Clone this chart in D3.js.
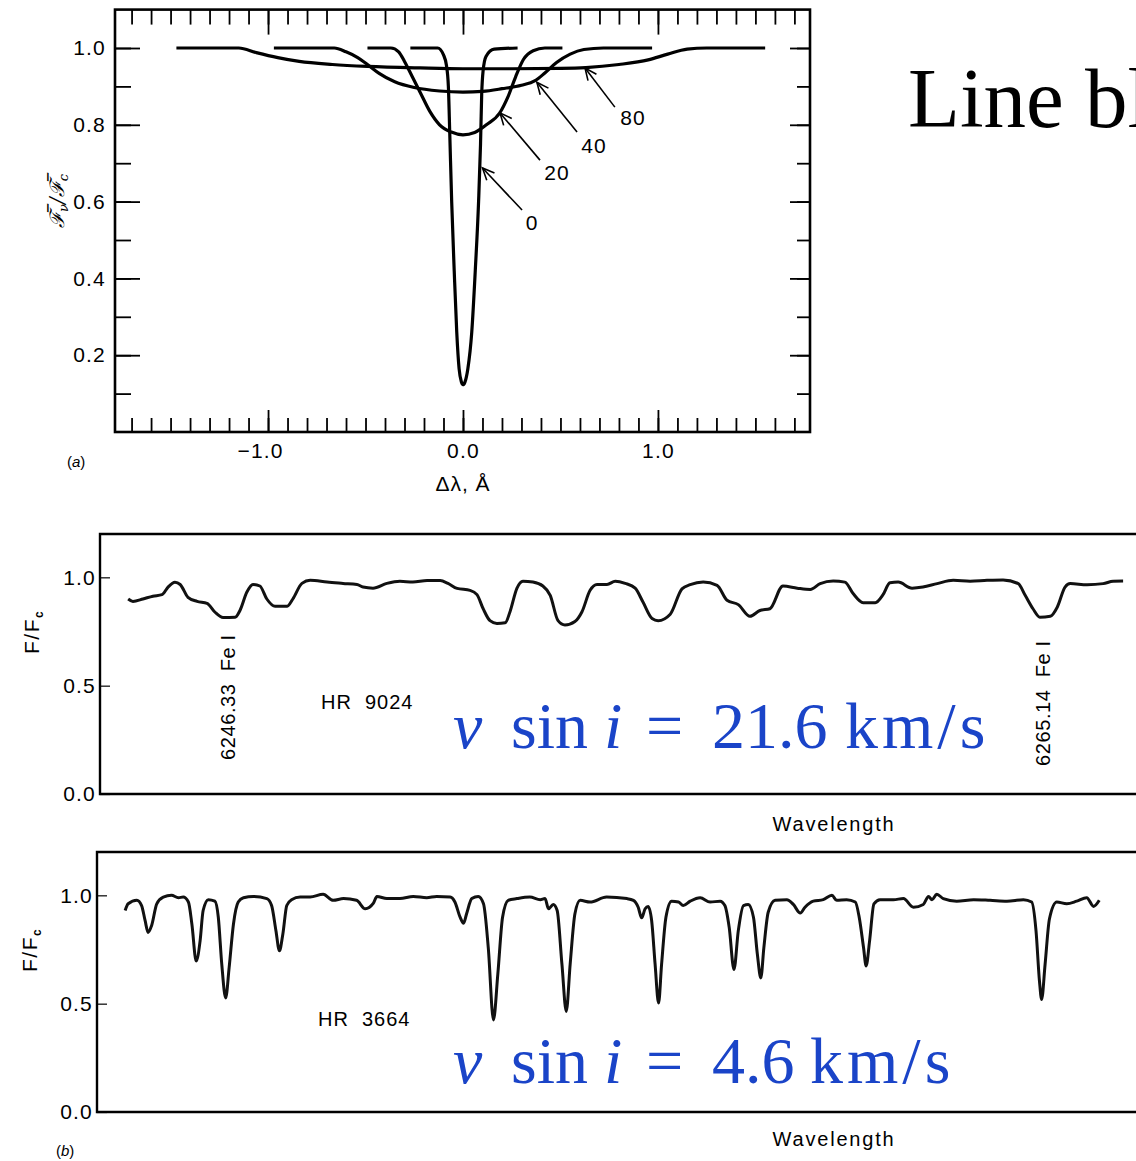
<!DOCTYPE html>
<html>
<head>
<meta charset="utf-8">
<script src="https://cdn.jsdelivr.net/npm/d3@7"></script>
<style>
  body { margin: 0; background: #fff; }
  svg { display: block; }
</style>
</head>
<body>
<div id="chart"></div>
<script>
// ---- data: (a) rotationally broadened profiles, [delta lambda (A), F/Fc]
var profileVelocities = [0, 20, 40, 80];

var profileV0 = [[-0.27,1.0],[-0.13,1.0],[-0.1,0.982],[-0.085,0.955],[-0.075,0.9],[-0.068,0.78],[-0.058,0.6],
  [-0.045,0.42],[-0.032,0.26],[-0.02,0.165],[-0.008,0.13],[0.0,0.123],[0.01,0.13],[0.025,0.165],[0.045,0.26],
  [0.063,0.42],[0.08,0.6],[0.09,0.75],[0.096,0.88],[0.103,0.94],[0.118,0.978],[0.16,0.997],[0.28,1.0]];

var profileV20 = [[-0.49,1.0],[-0.37,1.0],[-0.33,0.99],[-0.3,0.965],[-0.26,0.925],[-0.22,0.885],[-0.17,0.835],
  [-0.12,0.8],[-0.06,0.781],[0.0,0.774],[0.06,0.78],[0.12,0.8],[0.19,0.832],[0.23,0.872],[0.27,0.925],
  [0.31,0.97],[0.36,0.993],[0.42,1.0],[0.51,1.0]];

var profileV40 = [[-0.97,1.0],[-0.66,1.0],[-0.6,0.99],[-0.54,0.975],[-0.49,0.957],[-0.43,0.934],[-0.35,0.912],
  [-0.25,0.897],[-0.12,0.888],[0.0,0.885],[0.1,0.887],[0.2,0.894],[0.3,0.903],[0.37,0.915],[0.42,0.935],
  [0.48,0.962],[0.55,0.984],[0.62,0.996],[0.72,1.0],[0.97,1.0]];

var profileV80 = [[-1.47,1.0],[-1.15,1.0],[-1.06,0.988],[-0.95,0.975],[-0.84,0.965],[-0.67,0.957],[-0.49,0.952],
  [-0.22,0.948],[0.0,0.946],[0.25,0.946],[0.5,0.947],[0.63,0.949],[0.8,0.957],[0.95,0.969],[1.05,0.984],
  [1.15,0.997],[1.25,1.0],[1.55,1.0]];

var profileXMinor = d3.range(-17, 18).map(function (d) { return d / 10; });
var profileXMajor = [-1.0, 0.0, 1.0];
var profileYMinor = d3.range(1, 11).map(function (d) { return d / 10; });
var profileYMajor = [0.2, 0.4, 0.6, 0.8, 1.0];

// ---- data: (b) observed spectra, [wavelength (A), F/Fc]
var hr9024 = [[6244.05,0.90],[6244.16,0.889],[6244.39,0.90],[6244.62,0.913],[6244.83,0.92],[6244.97,0.955],
  [6245.13,0.977],[6245.25,0.967],[6245.43,0.908],[6245.64,0.889],[6245.87,0.88],[6246.05,0.84],[6246.24,0.815],
  [6246.52,0.816],[6246.63,0.847],[6246.79,0.932],[6246.93,0.967],[6247.09,0.96],[6247.25,0.90],[6247.44,0.866],
  [6247.72,0.867],[6247.85,0.90],[6248.06,0.972],[6248.25,0.986],[6248.64,0.978],[6249.01,0.972],[6249.33,0.967],
  [6249.47,0.955],[6249.70,0.95],[6250.02,0.972],[6250.32,0.982],[6250.62,0.978],[6250.95,0.985],[6251.25,0.985],
  [6251.43,0.972],[6251.64,0.949],[6251.94,0.94],[6252.10,0.92],[6252.24,0.856],[6252.40,0.80],[6252.56,0.787],
  [6252.75,0.79],[6252.86,0.84],[6253.02,0.949],[6253.16,0.982],[6253.39,0.978],[6253.62,0.96],[6253.79,0.917],
  [6253.97,0.80],[6254.13,0.78],[6254.36,0.796],[6254.52,0.84],[6254.71,0.94],[6254.87,0.967],[6255.10,0.967],
  [6255.29,0.982],[6255.52,0.972],[6255.75,0.95],[6255.93,0.886],[6256.14,0.81],[6256.28,0.80],[6256.56,0.83],
  [6256.83,0.947],[6257.02,0.966],[6257.32,0.978],[6257.64,0.963],[6257.87,0.894],[6258.13,0.874],[6258.40,0.82],
  [6258.63,0.847],[6258.86,0.855],[6259.16,0.96],[6259.49,0.95],[6259.79,0.944],[6260.02,0.971],[6260.32,0.983],
  [6260.59,0.978],[6260.78,0.925],[6261.01,0.883],[6261.29,0.883],[6261.47,0.92],[6261.63,0.975],[6261.82,0.978],
  [6262.14,0.95],[6262.39,0.955],[6262.72,0.971],[6263.09,0.986],[6263.48,0.982],[6263.87,0.986],[6264.24,0.988],
  [6264.59,0.971],[6264.75,0.917],[6264.93,0.855],[6265.09,0.816],[6265.33,0.82],[6265.49,0.862],[6265.67,0.955],
  [6265.79,0.971],[6266.18,0.966],[6266.55,0.971],[6266.78,0.982],[6267.01,0.983]];

var hr3664 = [[6243.98,0.93],[6244.05,0.961],[6244.25,0.977],[6244.36,0.953],[6244.44,0.884],[6244.51,0.829],
  [6244.59,0.86],[6244.71,0.961],[6244.86,0.992],[6245.05,1.0],[6245.21,0.989],[6245.32,0.992],[6245.44,0.969],
  [6245.52,0.868],[6245.62,0.697],[6245.71,0.79],[6245.78,0.93],[6245.90,0.98],[6246.05,0.973],[6246.13,0.899],
  [6246.21,0.682],[6246.30,0.526],[6246.38,0.666],[6246.48,0.868],[6246.59,0.969],[6246.71,0.989],[6246.94,0.995],
  [6247.25,0.985],[6247.36,0.953],[6247.46,0.837],[6247.54,0.744],[6247.62,0.822],[6247.71,0.953],[6247.82,0.98],
  [6248.02,0.992],[6248.25,0.992],[6248.55,1.005],[6248.78,0.977],[6249.02,0.985],[6249.32,0.977],[6249.52,0.938],
  [6249.71,0.964],[6249.79,0.995],[6250.02,0.985],[6250.32,0.985],[6250.63,0.995],[6250.94,0.989],[6251.17,0.995],
  [6251.48,0.992],[6251.59,0.969],[6251.71,0.899],[6251.79,0.871],[6251.86,0.915],[6251.98,0.985],[6252.13,0.995],
  [6252.25,0.961],[6252.36,0.759],[6252.48,0.425],[6252.58,0.635],[6252.69,0.899],[6252.82,0.977],[6253.02,0.985],
  [6253.32,0.992],[6253.56,0.98],[6253.67,0.985],[6253.75,0.938],[6253.86,0.958],[6253.95,0.93],[6254.06,0.682],
  [6254.16,0.464],[6254.25,0.682],[6254.36,0.915],[6254.48,0.977],[6254.71,0.969],[6255.09,0.992],[6255.56,0.985],
  [6255.71,0.977],[6255.82,0.945],[6255.90,0.896],[6255.98,0.938],[6256.05,0.949],[6256.13,0.884],[6256.21,0.682],
  [6256.29,0.503],[6256.36,0.682],[6256.46,0.899],[6256.59,0.973],[6256.75,0.969],[6256.86,0.953],[6257.02,0.973],
  [6257.25,0.989],[6257.48,0.969],[6257.71,0.973],[6257.82,0.953],[6257.92,0.852],[6258.03,0.658],[6258.13,0.837],
  [6258.25,0.953],[6258.36,0.958],[6258.48,0.899],[6258.57,0.728],[6258.65,0.619],[6258.72,0.759],[6258.82,0.922],
  [6258.98,0.977],[6259.25,0.98],[6259.40,0.958],[6259.56,0.918],[6259.67,0.945],[6259.86,0.973],[6260.09,0.98],
  [6260.29,1.0],[6260.40,0.977],[6260.63,0.98],[6260.83,0.969],[6260.92,0.899],[6261.02,0.759],[6261.08,0.674],
  [6261.16,0.79],[6261.26,0.961],[6261.40,0.98],[6261.71,0.98],[6261.94,0.985],[6262.17,0.945],[6262.40,0.958],
  [6262.52,0.995],[6262.60,0.98],[6262.71,1.005],[6262.86,0.985],[6263.17,0.973],[6263.56,0.98],[6263.94,0.977],
  [6264.33,0.973],[6264.71,0.98],[6264.90,0.969],[6265.00,0.837],[6265.08,0.604],[6265.13,0.519],[6265.21,0.682],
  [6265.31,0.891],[6265.48,0.969],[6265.71,0.961],[6265.94,0.973],[6266.17,0.989],[6266.33,0.949],[6266.46,0.977]];

var spectrumYTicks = [0.0, 0.5, 1.0];
var feLines = [{ wl: 6246.33, label: "6246.33 Fe I" }, { wl: 6265.14, label: "6265.14 Fe I" }];
var vsiniValues = ["21.6", "4.6"];

// ---- drawing
var W = 1136, H = 1161;
var SANS = "'Liberation Sans', Arial, Helvetica, sans-serif";
var SERIF = "'Liberation Serif', 'DejaVu Serif', serif";

var svg = d3.select("#chart").append("svg")
    .attr("width", W)
    .attr("height", H)
    .style("font-family", SANS);

function styleTicks(g) {
    g.select(".domain").remove();
    g.selectAll("line").attr("stroke", "#000").attr("stroke-width", 1.8);
    g.attr("font-family", SANS).attr("font-size", 21);
    g.selectAll("text").attr("fill", "#000").attr("letter-spacing", 1.2);
}

// slide heading, cut off by the page edge as in the original
svg.append("text")
    .attr("x", 908).attr("y", 127)
    .style("font-family", SERIF)
    .style("font-size", "85px")
    .attr("fill", "#000")
    .text("Line blanketing");

// ===== panel (a)
var x1 = d3.scaleLinear().domain([-1.785, 1.78]).range([115, 810]);
var y1 = d3.scaleLinear().domain([0, 1.1]).range([432, 9.6]);

var pa = svg.append("g");

pa.append("g").attr("transform", "translate(0,432)")
    .call(d3.axisBottom(x1).tickValues(profileXMinor).tickSize(-14).tickFormat(""))
    .call(styleTicks);
pa.append("g").attr("transform", "translate(0,432)")
    .call(d3.axisBottom(x1).tickValues(profileXMajor).tickSize(-22).tickPadding(11).tickFormat(d3.format(".1f")))
    .call(styleTicks)
    .selectAll("text").attr("dx", function (d) { return d < 0 ? -8 : 0; });
pa.append("g").attr("transform", "translate(0,9.6)")
    .call(d3.axisTop(x1).tickValues(profileXMinor).tickSize(-15).tickFormat(""))
    .call(styleTicks);
pa.append("g").attr("transform", "translate(0,9.6)")
    .call(d3.axisTop(x1).tickValues(profileXMajor).tickSize(-25).tickFormat(""))
    .call(styleTicks);
pa.append("g").attr("transform", "translate(115,0)")
    .call(d3.axisLeft(y1).tickValues(profileYMinor).tickSize(-16).tickFormat(""))
    .call(styleTicks);
pa.append("g").attr("transform", "translate(115,0)")
    .call(d3.axisLeft(y1).tickValues(profileYMajor).tickSize(-25).tickPadding(9).tickFormat(d3.format(".1f")))
    .call(styleTicks);
pa.append("g").attr("transform", "translate(810,0)")
    .call(d3.axisRight(y1).tickValues(profileYMinor).tickSize(-13).tickFormat(""))
    .call(styleTicks);
pa.append("g").attr("transform", "translate(810,0)")
    .call(d3.axisRight(y1).tickValues(profileYMajor).tickSize(-20).tickFormat(""))
    .call(styleTicks);

pa.append("rect")
    .attr("x", x1.range()[0]).attr("y", y1.range()[1])
    .attr("width", x1.range()[1] - x1.range()[0])
    .attr("height", y1.range()[0] - y1.range()[1])
    .attr("fill", "none").attr("stroke", "#000").attr("stroke-width", 2.6);

var profileLine = d3.line()
    .x(function (d) { return x1(d[0]); })
    .y(function (d) { return y1(d[1]); })
    .curve(d3.curveMonotoneX);

var profiles = [profileV0, profileV20, profileV40, profileV80];
pa.selectAll(".profile")
    .data(profiles)
    .enter().append("path")
    .attr("class", "profile")
    .attr("d", profileLine)
    .attr("fill", "none")
    .attr("stroke", "#000")
    .attr("stroke-width", 3.2);

// arrows naming each profile (label, tail, tip in data units)
var arrowNotes = [
    { v: 80, label: [0.872, 0.82], tail: [0.779, 0.846], tip: [0.626, 0.948] },
    { v: 40, label: [0.672, 0.747], tail: [0.585, 0.781], tip: [0.379, 0.911] },
    { v: 20, label: [0.482, 0.677], tail: [0.395, 0.708], tip: [0.19, 0.831] },
    { v: 0, label: [0.354, 0.547], tail: [0.303, 0.578], tip: [0.1, 0.6875] }
];

arrowNotes.forEach(function (a) {
    var tx = x1(a.tail[0]), ty = y1(a.tail[1]);
    var hx = x1(a.tip[0]), hy = y1(a.tip[1]);
    var ang = Math.atan2(ty - hy, tx - hx);
    var len = 13, spread = 0.42;
    pa.append("line")
        .attr("x1", tx).attr("y1", ty).attr("x2", hx).attr("y2", hy)
        .attr("stroke", "#000").attr("stroke-width", 1.6);
    pa.append("path")
        .attr("d", "M" + (hx + len * Math.cos(ang - spread)) + "," + (hy + len * Math.sin(ang - spread)) +
            "L" + hx + "," + hy +
            "L" + (hx + len * Math.cos(ang + spread)) + "," + (hy + len * Math.sin(ang + spread)))
        .attr("fill", "none").attr("stroke", "#000").attr("stroke-width", 1.6);
    pa.append("text")
        .attr("x", x1(a.label[0])).attr("y", y1(a.label[1]))
        .attr("dy", "0.36em")
        .attr("text-anchor", "middle")
        .attr("font-size", 21)
        .attr("letter-spacing", 1)
        .text(a.v);
});

// y label of panel (a)
var ya = pa.append("text")
    .attr("transform", "translate(64,228) rotate(-90)")
    .style("font-family", "'DejaVu Serif', serif")
    .style("font-style", "italic")
    .attr("fill", "#000")
    .attr("font-size", 20);
ya.append("tspan").text("\u2131\u0305");
ya.append("tspan").attr("font-size", 13).attr("dy", 4).text("\u03bd");
ya.append("tspan").attr("dy", -4).text("/\u2131\u0305");
ya.append("tspan").attr("font-size", 13).attr("dy", 4).text("c");

pa.append("text")
    .attr("x", x1(0)).attr("y", 491)
    .attr("text-anchor", "middle")
    .attr("font-size", 21)
    .attr("letter-spacing", 1)
    .text("\u0394\u03bb,  \u00c5");

var tagA = pa.append("text").attr("x", 67).attr("y", 467).attr("font-size", 15);
tagA.append("tspan").text("(");
tagA.append("tspan").style("font-style", "italic").text("a");
tagA.append("tspan").text(")");

// ===== panel (b): two spectra
var xs = d3.scaleLinear().domain([6243.40, 6267.40]).range([100, 1140]);

var spectrumPanels = [
    { data: hr9024, star: "HR 9024", left: 100, top: 534, bottom: 794, starX: 321, starY: 709,
      vsini: vsiniValues[0], vY: 748, lines: true, yLabelX: 39, yLabelY: 654, wlY: 831 },
    { data: hr3664, star: "HR 3664", left: 97, top: 852, bottom: 1112, starX: 318, starY: 1026,
      vsini: vsiniValues[1], vY: 1083, lines: false, yLabelX: 37, yLabelY: 972, wlY: 1146 }
];

spectrumPanels.forEach(function (p) {
    var ys = d3.scaleLinear().domain([0, 1.2]).range([p.bottom, p.top]);
    var g = svg.append("g");

    g.append("path")
        .attr("d", "M" + W + "," + p.top + "H" + p.left + "V" + p.bottom + "H" + W)
        .attr("fill", "none").attr("stroke", "#000").attr("stroke-width", 2.4);

    g.append("g").attr("transform", "translate(" + p.left + ",0)")
        .call(d3.axisLeft(ys).tickValues(spectrumYTicks).tickSize(-10).tickPadding(4).tickFormat(d3.format(".1f")))
        .call(styleTicks)
        .selectAll("line").attr("stroke-width", 1.2);

    g.append("path")
        .datum(p.data)
        .attr("d", d3.line()
            .x(function (d) { return xs(d[0]); })
            .y(function (d) { return ys(d[1]); })
            .curve(d3.curveMonotoneX))
        .attr("fill", "none")
        .attr("stroke", "#111")
        .attr("stroke-width", 3)
        .attr("stroke-linejoin", "round");

    var yl = g.append("text")
        .attr("transform", "translate(" + p.yLabelX + "," + p.yLabelY + ") rotate(-90)")
        .attr("font-size", 21)
        .attr("letter-spacing", 1.5);
    yl.append("tspan").text("F/F");
    yl.append("tspan").attr("font-size", 12).attr("font-weight", "bold").attr("dy", 4).text("c");

    g.append("text")
        .attr("x", p.starX).attr("y", p.starY)
        .attr("font-size", 20)
        .attr("letter-spacing", 1)
        .text(p.star.replace(" ", "\u00a0\u00a0"));

    if (p.lines) {
        feLines.forEach(function (f) {
            g.append("text")
                .attr("transform", "translate(" + (xs(f.wl) + 8) + "," + (f.wl < 6250 ? 760 : 766) + ") rotate(-90)")
                .attr("font-size", 20)
                .attr("letter-spacing", 0.6)
                .text(f.label.replace(" Fe", "\u00a0\u00a0Fe"));
        });
    }

    var vt = g.append("text")
        .attr("y", p.vY)
        .style("font-family", SERIF)
        .style("font-size", "66px")
        .attr("fill", "#1a44c8");
    vt.append("tspan").attr("x", 453).style("font-style", "italic").text("v");
    vt.append("tspan").attr("x", 511).text("sin");
    vt.append("tspan").attr("x", 604).style("font-style", "italic").text("i");
    vt.append("tspan").attr("x", 646).text("=");
    vt.append("tspan").attr("x", 712).text(p.vsini);
    vt.append("tspan").attr("x", p.vsini.length > 3 ? 845 : 810).attr("letter-spacing", 4).text("km/s");

    g.append("text")
        .attr("x", 834).attr("y", p.wlY)
        .attr("text-anchor", "middle")
        .attr("font-size", 20)
        .attr("letter-spacing", 1.8)
        .text("Wavelength");
});

var tagB = svg.append("text").attr("x", 56).attr("y", 1156).attr("font-size", 15);
tagB.append("tspan").text("(");
tagB.append("tspan").style("font-style", "italic").text("b");
tagB.append("tspan").text(")");
</script>
</body>
</html>
